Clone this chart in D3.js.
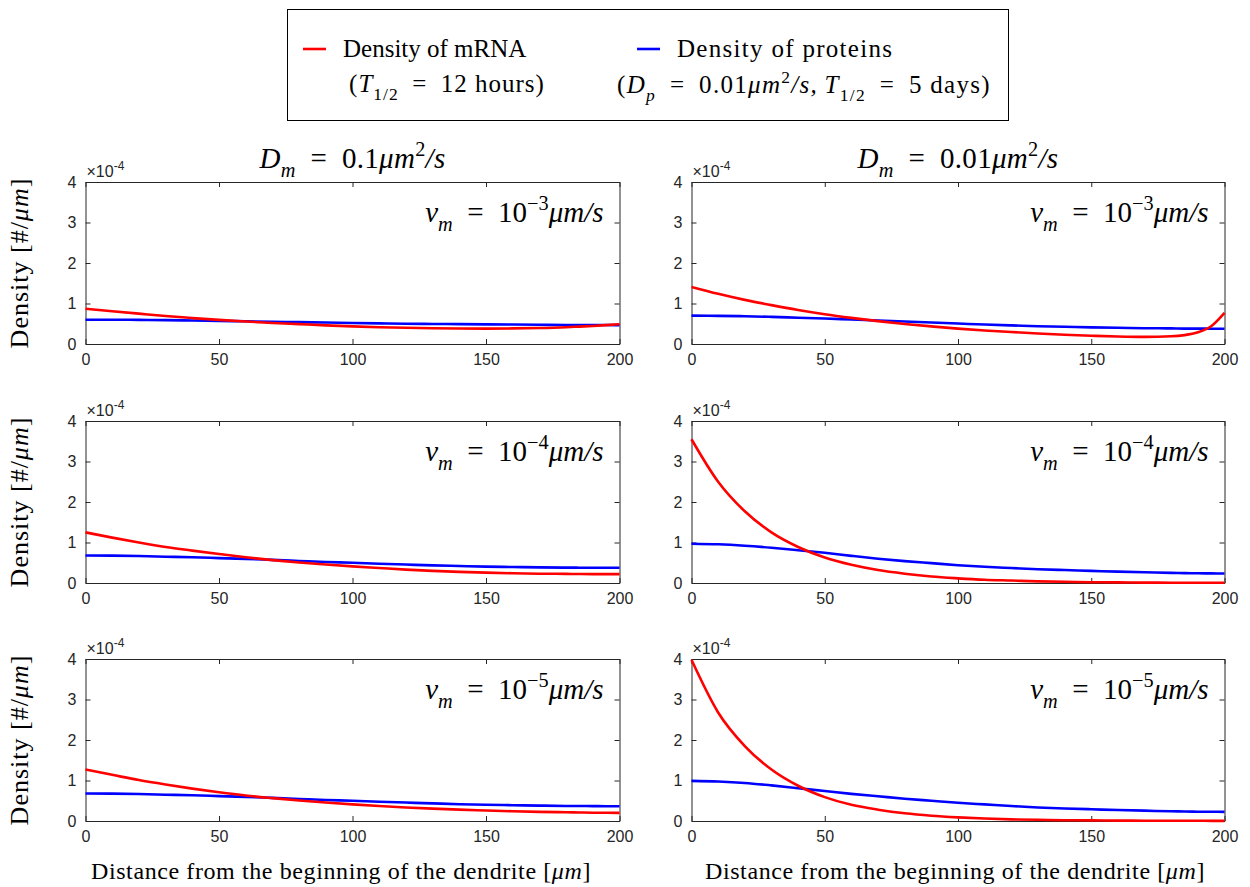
<!DOCTYPE html>
<html>
<head>
<meta charset="utf-8">
<script src="https://cdn.jsdelivr.net/npm/d3@7/dist/d3.min.js"></script>
<style>
  body { margin: 0; background: #fff; }
  svg { display: block; }
</style>
</head>
<body>
<svg id="chart" width="1250" height="887"></svg>
<script>
// ---------------- DATA (values in units of 1e-4 #/um) ----------------
const xGrid = [0, 10, 20, 30, 40, 50, 60, 70, 80, 90, 100, 110, 120, 130, 140, 150, 160, 170, 180, 185, 190, 195, 200];

// Dm = 0.1, vm = 1e-3
const mrnaD01v3 = [0.87, 0.81, 0.75, 0.69, 0.64, 0.595, 0.555, 0.52, 0.49, 0.46, 0.435, 0.415, 0.40, 0.39, 0.383, 0.38, 0.385, 0.395, 0.415, 0.43, 0.445, 0.465, 0.49];
const protD01v3 = [0.60, 0.60, 0.595, 0.59, 0.58, 0.57, 0.56, 0.55, 0.54, 0.53, 0.52, 0.51, 0.50, 0.495, 0.49, 0.485, 0.48, 0.475, 0.47, 0.47, 0.47, 0.468, 0.467];
// Dm = 0.01, vm = 1e-3
const mrnaD001v3 = [1.41, 1.24, 1.09, 0.96, 0.84, 0.735, 0.645, 0.565, 0.495, 0.435, 0.38, 0.335, 0.295, 0.26, 0.23, 0.205, 0.185, 0.175, 0.19, 0.22, 0.29, 0.44, 0.77];
const protD001v3 = [0.70, 0.695, 0.685, 0.67, 0.65, 0.63, 0.605, 0.58, 0.555, 0.53, 0.505, 0.48, 0.46, 0.44, 0.425, 0.41, 0.40, 0.39, 0.385, 0.38, 0.38, 0.378, 0.378];
// Dm = 0.1, vm = 1e-4
const mrnaD01v4 = [1.25, 1.12, 1.0, 0.89, 0.80, 0.715, 0.635, 0.565, 0.505, 0.455, 0.41, 0.37, 0.33, 0.30, 0.275, 0.255, 0.24, 0.23, 0.225, 0.222, 0.22, 0.22, 0.22];
const protD01v4 = [0.68, 0.675, 0.665, 0.65, 0.635, 0.615, 0.595, 0.57, 0.545, 0.52, 0.50, 0.475, 0.455, 0.435, 0.42, 0.405, 0.395, 0.385, 0.38, 0.378, 0.376, 0.375, 0.375];
// Dm = 0.01, vm = 1e-4
const mrnaD001v4 = [3.55, 2.5, 1.77, 1.25, 0.89, 0.63, 0.45, 0.32, 0.23, 0.16, 0.115, 0.08, 0.06, 0.04, 0.03, 0.02, 0.015, 0.01, 0.008, 0.007, 0.006, 0.005, 0.005];
const protD001v4 = [0.97, 0.955, 0.92, 0.87, 0.81, 0.745, 0.67, 0.60, 0.54, 0.49, 0.44, 0.40, 0.37, 0.34, 0.32, 0.30, 0.28, 0.265, 0.25, 0.245, 0.24, 0.237, 0.235];
// Dm = 0.1, vm = 1e-5
const mrnaD01v5 = [1.27, 1.14, 1.01, 0.9, 0.80, 0.71, 0.63, 0.565, 0.505, 0.455, 0.41, 0.37, 0.335, 0.305, 0.28, 0.26, 0.24, 0.225, 0.215, 0.21, 0.205, 0.203, 0.2];
const protD01v5 = [0.68, 0.675, 0.665, 0.65, 0.635, 0.615, 0.595, 0.57, 0.545, 0.52, 0.50, 0.475, 0.455, 0.435, 0.415, 0.40, 0.39, 0.38, 0.372, 0.37, 0.368, 0.366, 0.365];
// Dm = 0.01, vm = 1e-5
const mrnaD001v5 = [3.98, 2.68, 1.85, 1.27, 0.87, 0.59, 0.40, 0.28, 0.19, 0.13, 0.09, 0.06, 0.04, 0.03, 0.02, 0.015, 0.01, 0.008, 0.006, 0.005, 0.005, 0.004, 0.004];
const protD001v5 = [0.99, 0.975, 0.94, 0.88, 0.81, 0.74, 0.67, 0.61, 0.55, 0.50, 0.45, 0.41, 0.37, 0.335, 0.31, 0.29, 0.27, 0.255, 0.24, 0.235, 0.23, 0.228, 0.225];

const xTicks = [0, 50, 100, 150, 200];
const yTicks = [0, 1, 2, 3, 4];
const columnTitles = [["D", "m", "0.1"], ["D", "m", "0.01"]];
const rowExponents = ["\u22123", "\u22124", "\u22125"];

const panels = [
  { row: 0, col: 0, mrna: mrnaD01v3, prot: protD01v3 },
  { row: 0, col: 1, mrna: mrnaD001v3, prot: protD001v3 },
  { row: 1, col: 0, mrna: mrnaD01v4, prot: protD01v4 },
  { row: 1, col: 1, mrna: mrnaD001v4, prot: protD001v4 },
  { row: 2, col: 0, mrna: mrnaD01v5, prot: protD01v5 },
  { row: 2, col: 1, mrna: mrnaD001v5, prot: protD001v5 }
];

// ---------------- LAYOUT ----------------
const colX = [[85.5, 619.5], [691.5, 1224.5]];
const rowY = [[182, 344], [421, 583], [659, 821]];
const xLabelCenter = [341, 955];
const SERIF = "'Liberation Serif', 'Times New Roman', serif";
const SANS = "'Liberation Sans', Arial, Helvetica, sans-serif";
const AXC = "#262626";
const EQ = "\u2002=\u2002";

const svg = d3.select("#chart");

// helper: rich math text. parts: [text, style] style in r,i,sub,subi,sup
function mathText(g, x, y, parts, size, anchor, spacing) {
  const t = g.append("text").attr("x", x).attr("y", y)
    .attr("font-family", SERIF).attr("font-size", size)
    .attr("letter-spacing", spacing || 0)
    .attr("text-anchor", anchor || "start").attr("fill", "#000");
  let cur = 0;
  parts.forEach(([s, st]) => {
    let target = 0, fs = size, it = false;
    if (st === "i") it = true;
    if (st === "sub" || st === "subi") { target = size * 0.3; fs = size * 0.7; it = st === "subi"; }
    if (st === "sup") { target = -size * 0.42; fs = size * 0.7; }
    const ts = t.append("tspan").text(s).attr("font-size", fs)
      .attr("font-style", it ? "italic" : "normal");
    if (target !== cur) { ts.attr("dy", target - cur); cur = target; }
  });
  return t;
}

const line = (xs, ys) => d3.line()
  .x((d, i) => xs(xGrid[i])).y(d => ys(d))
  .curve(d3.curveMonotoneX);

panels.forEach(p => {
  const [x0, x1] = colX[p.col];
  const [y0, y1] = rowY[p.row];
  const xs = d3.scaleLinear().domain([0, 200]).range([x0, x1]);
  const ys = d3.scaleLinear().domain([0, 4]).range([y1, y0]);
  const g = svg.append("g");

  // axes (MATLAB box with inward ticks)
  const bottom = g.append("g").attr("transform", `translate(0,${y1})`)
    .call(d3.axisBottom(xs).tickValues(xTicks).tickFormat(d3.format("d")).tickSizeInner(-5).tickSizeOuter(0).tickPadding(10));
  const top = g.append("g").attr("transform", `translate(0,${y0})`)
    .call(d3.axisTop(xs).tickValues(xTicks).tickFormat("").tickSizeInner(-5).tickSizeOuter(0));
  const left = g.append("g").attr("transform", `translate(${x0},0)`)
    .call(d3.axisLeft(ys).tickValues(yTicks).tickFormat(d3.format("d")).tickSizeInner(-5).tickSizeOuter(0).tickPadding(9));
  const right = g.append("g").attr("transform", `translate(${x1},0)`)
    .call(d3.axisRight(ys).tickValues(yTicks).tickFormat("").tickSizeInner(-5).tickSizeOuter(0));
  [bottom, top, left, right].forEach(a => {
    a.selectAll("path.domain").attr("stroke", AXC).attr("stroke-width", 1);
    a.selectAll(".tick line").attr("stroke", AXC).attr("stroke-width", 1);
    a.selectAll("text").attr("font-family", SANS).attr("font-size", 16).attr("fill", AXC);
  });
  bottom.selectAll("text").attr("dy", "0.71em");

  // x10^-4 exponent label
  const ex = g.append("text").attr("x", x0 + 1).attr("y", y0 - 5)
    .attr("font-family", SANS).attr("font-size", 16).attr("fill", AXC);
  ex.append("tspan").text("\u00d710");
  ex.append("tspan").text("-4").attr("font-size", 12).attr("dy", -7);

  // lines
  g.append("path").datum(p.prot).attr("d", line(xs, ys))
    .attr("fill", "none").attr("stroke", "#0000ff").attr("stroke-width", 2.6);
  g.append("path").datum(p.mrna).attr("d", line(xs, ys))
    .attr("fill", "none").attr("stroke", "#ff0000").attr("stroke-width", 2.6);

  // annotation v_m = 10^-k um/s
  mathText(g, x1 - 16, y0 + 40, [["v", "i"], ["m", "subi"], [EQ + "10", "r"], [rowExponents[p.row], "sup"], ["\u03bcm/s", "i"]], 29, "end", 0);

  // y label (left column only)
  if (p.col === 0) {
    const cy = (y0 + y1) / 2;
    const yl = g.append("text").attr("transform", `translate(28,${cy}) rotate(-90)`)
      .attr("text-anchor", "middle").attr("font-family", SERIF).attr("font-size", 26)
      .attr("letter-spacing", 1).attr("fill", "#000");
    yl.append("tspan").text("Density [#/");
    yl.append("tspan").text("\u03bcm").attr("font-style", "italic");
    yl.append("tspan").text("]");
  }
  // column titles
  if (p.row === 0) {
    const ct = columnTitles[p.col];
    mathText(g, (x0 + x1) / 2, 168, [[ct[0], "i"], [ct[1], "subi"], [EQ + ct[2], "r"], ["\u03bcm", "i"], ["2", "sup"], ["/s", "i"]], 29, "middle", 0.3);
  }
  // x labels
  if (p.row === 2) {
    const xl = g.append("text").attr("x", xLabelCenter[p.col]).attr("y", 879)
      .attr("text-anchor", "middle").attr("font-family", SERIF).attr("font-size", 24)
      .attr("letter-spacing", 0.6).attr("fill", "#000");
    xl.append("tspan").text("Distance from the beginning of the dendrite [");
    xl.append("tspan").text("\u03bcm").attr("font-style", "italic");
    xl.append("tspan").text("]");
  }
});

// ---------------- LEGEND ----------------
const lg = svg.append("g");
lg.append("rect").attr("x", 287.5).attr("y", 9.5).attr("width", 721).attr("height", 111)
  .attr("fill", "#fff").attr("stroke", "#000").attr("stroke-width", 1);
lg.append("line").attr("x1", 303).attr("x2", 326).attr("y1", 49).attr("y2", 49)
  .attr("stroke", "#ff0000").attr("stroke-width", 2.6);
lg.append("line").attr("x1", 637).attr("x2", 660).attr("y1", 49).attr("y2", 49)
  .attr("stroke", "#0000ff").attr("stroke-width", 2.6);
mathText(lg, 343, 57, [["Density of mRNA", "r"]], 25, "start", 0);
mathText(lg, 447, 92, [["(", "r"], ["T", "i"], ["1/2", "sub"], [EQ + "12 hours)", "r"]], 25, "middle", 1);
mathText(lg, 677, 57, [["Density of proteins", "r"]], 25, "start", 1.3);
mathText(lg, 804, 93, [["(", "r"], ["D", "i"], ["p", "subi"], [EQ + "0.01", "r"], ["\u03bcm", "i"], ["2", "sup"], ["/s,\u2009", "i"], ["T", "i"], ["1/2", "sub"], [EQ + "5 days)", "r"]], 25, "middle", 1.3);
</script>
</body>
</html>
